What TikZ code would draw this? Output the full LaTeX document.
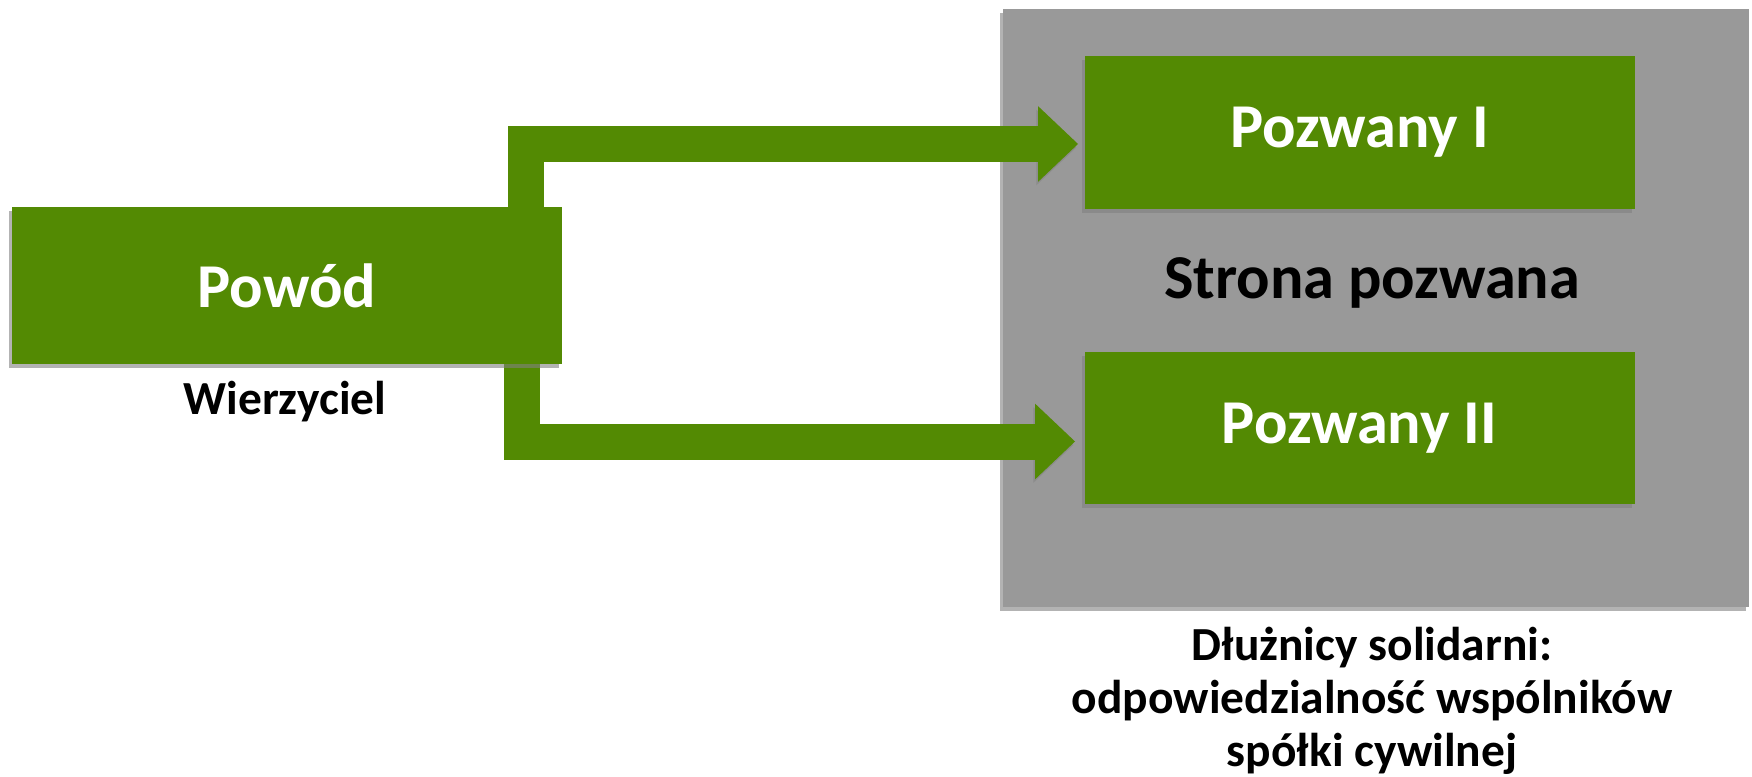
\documentclass[tikz,border=0pt]{standalone}
\usepackage{fontspec}
\setmainfont{Carlito}
\usetikzlibrary{arrows.meta,shadows}
\definecolor{zielony}{RGB}{83,138,3}
\definecolor{szary}{RGB}{153,153,153}
\pgfdeclarelayer{tlo}
\pgfdeclarelayer{strzalki}
\pgfsetlayers{tlo,strzalki,main}
\tikzset{
  cien/.style={drop shadow={shadow xshift=-1.5pt, shadow yshift=-2.5pt, opacity=.6}},
  duzy/.style={font=\bfseries\fontsize{35.5}{42}\selectfont},
  maly/.style={font=\bfseries\fontsize{27}{30.2}\selectfont},
  zielonybox/.style={fill=zielony, cien, text=white, duzy, inner sep=0pt, minimum width=11cm},
  szarybox/.style={fill=szary, cien, inner sep=0pt, minimum width=14.92cm, minimum height=11.96cm},
  strzalka/.style={draw=zielony, line width=0.72cm, line join=miter,
    -{Triangle[length=0.8cm, width=1.46cm]},
    preaction={draw=black!45, transform canvas={shift={(-1pt,-2pt)}}}}
}
\begin{document}
\begin{tikzpicture}
  \useasboundingbox (0,0) rectangle (35.04,15.52);
  \begin{pgfonlayer}{tlo}
    \node[szarybox] (strona) at (27.52,9.36) {};
  \end{pgfonlayer}
  \node[zielonybox, minimum height=3.14cm] (powod) at (5.74,9.81)                      {Powód};
  \node[maly]                              (wierz) at ([shift={(-0.04,-2.33)}] powod)  {Wierzyciel};
  \node[zielonybox, minimum height=3.06cm] (poz1)  at ([shift={(-0.33,3.51)}]  strona) {Pozwany I};
  \node[zielonybox, minimum height=3.04cm] (poz2)  at ([shift={(-0.33,-2.40)}] strona) {Pozwany II};
  \node[duzy]                              (napis) at ([shift={(-0.08,0.50)}]  strona) {Strona pozwana};
  \node[maly, align=center]                (opis)  at ([shift={(-0.08,-7.86)}] strona)
    {Dłużnicy solidarni:\\odpowiedzialność wspólników\\spółki cywilnej};
  % strzalki od powoda
  \coordinate (start1) at ([shift={(4.78,0)}]      powod.center);
  \coordinate (start2) at ([shift={(4.70,0)}]      powod.center);
  \coordinate (koniec1) at ([shift={(-0.12,-0.23)}] poz1.west);
  \coordinate (koniec2) at ([shift={(-0.18,-0.27)}] poz2.west);
  \begin{pgfonlayer}{strzalki}
    \draw[strzalka] (start1) |- (koniec1);
    \draw[strzalka] (start2) |- (koniec2);
  \end{pgfonlayer}
\end{tikzpicture}
\end{document}
